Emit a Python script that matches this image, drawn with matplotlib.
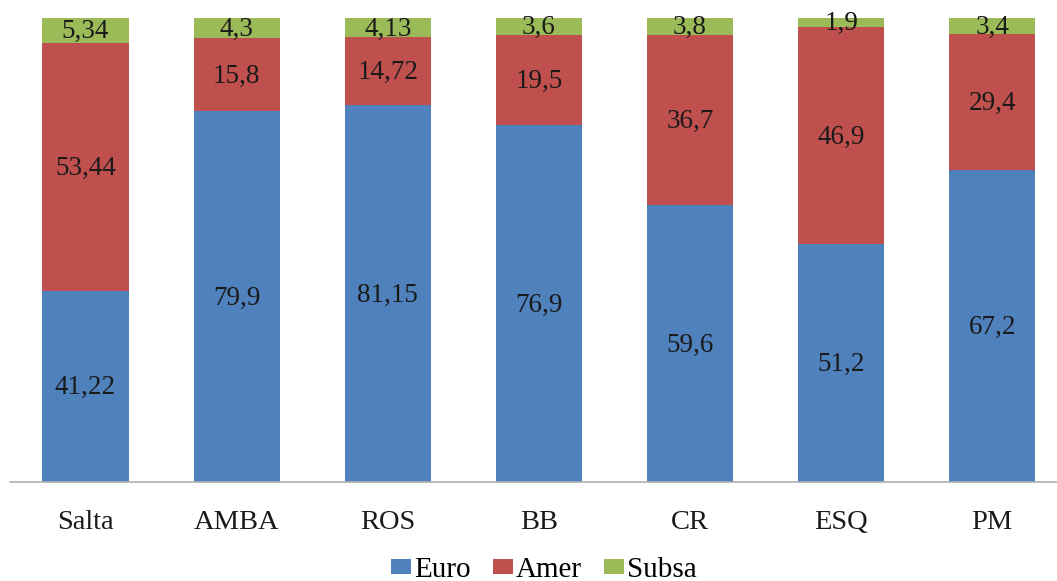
import matplotlib
matplotlib.use("Agg")
import matplotlib.pyplot as plt
from matplotlib.patches import Patch

plt.rcParams['font.family'] = ['Liberation Serif', 'DejaVu Serif']

categories = ["Salta", "AMBA", "ROS", "BB", "CR", "ESQ", "PM"]
euro = [41.22, 79.9, 81.15, 76.9, 59.6, 51.2, 67.2]
amer = [53.44, 15.8, 14.72, 19.5, 36.7, 46.9, 29.4]
subsa = [5.34, 4.3, 4.13, 3.6, 3.8, 1.9, 3.4]

euro_lbl = ["41,22", "79,9", "81,15", "76,9", "59,6", "51,2", "67,2"]
amer_lbl = ["53,44", "15,8", "14,72", "19,5", "36,7", "46,9", "29,4"]
subsa_lbl = ["5,34", "4,3", "4,13", "3,6", "3,8", "1,9", "3,4"]

series_names = ["Euro", "Amer", "Subsa"]
colors = ["#4F81BD", "#C0504D", "#9BBB59"]

W, H = 1057, 581
fig = plt.figure(figsize=(W / 100, H / 100), dpi=100)
left = 10 / W
bottom = (H - 482) / H
top = (H - 18) / H
ax = fig.add_axes([left, bottom, 7 * 151.1 / W, top - bottom])

x = list(range(len(categories)))
width = 0.57
base = [0.0] * len(categories)
for vals, lbls, col in zip([euro, amer, subsa], [euro_lbl, amer_lbl, subsa_lbl], colors):
    bars = ax.bar(x, vals, width, bottom=base, color=col, edgecolor="none")
    for b, v, lb in zip(bars, vals, lbls):
        ax.text(b.get_x() + b.get_width() / 2, b.get_y() + v / 2 - 0.3, lb,
                ha="center", va="center", fontsize=19.5, color="#1a1a1a")
    base = [a + v for a, v in zip(base, vals)]

ax.set_xlim(-0.5, 6.5)
ax.set_ylim(0, 100)
ax.set_yticks([])
ax.set_xticks(x)
ax.set_xticklabels(categories, fontsize=20.5, color="#1a1a1a")
ax.tick_params(axis="x", length=0, pad=20)
for s in ["top", "right", "left"]:
    ax.spines[s].set_visible(False)
ax.spines["bottom"].set_color("#b0b0b0")
ax.spines["bottom"].set_linewidth(1.2)

handles = [Patch(facecolor=c, edgecolor="none") for c in colors]
fig.legend(handles, series_names, loc="center", bbox_to_anchor=(544 / W, (H - 570) / H),
           ncol=3, frameon=False, fontsize=21, handlelength=0.68, handleheight=0.45,
           handletextpad=0.12, columnspacing=0.75, borderpad=0, borderaxespad=0)

fig.savefig("out.png", dpi=100)
